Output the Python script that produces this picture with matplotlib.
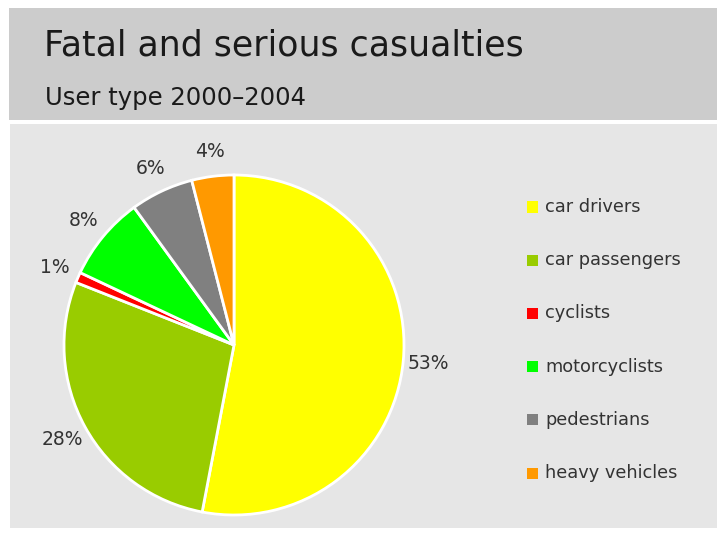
import matplotlib.pyplot as plt
from matplotlib.patches import Rectangle

# casualty shares by road user type, 2000-2004 (percent)
categories = ['car drivers', 'car passengers', 'cyclists',
              'motorcyclists', 'pedestrians', 'heavy vehicles']
shares = [53, 28, 1, 8, 6, 4]
colors = ['#ffff00', '#99cc00', '#ff0000', '#00ff00', '#808080', '#ff9900']

W, H = 717, 534
fig = plt.figure(figsize=(W / 100, H / 100), dpi=100, facecolor='white')

def px_box(x0, y0, x1, y1):
    # pixel box (top-left origin) -> figure fraction rect
    return (x0 / W, 1 - y1 / H, (x1 - x0) / W, (y1 - y0) / H)

# header band and chart panel
hx, hy, hw, hh = px_box(9, 8, 717, 120)
fig.patches.append(Rectangle((hx, hy), hw, hh, transform=fig.transFigure,
                             facecolor='#cccccc', edgecolor='none', zorder=-2))
px, py, pw, ph = px_box(10, 124, 717, 528)
fig.patches.append(Rectangle((px, py), pw, ph, transform=fig.transFigure,
                             facecolor='#e6e6e6', edgecolor='none', zorder=-2))

fig.text(44 / W, 1 - 46 / H, 'Fatal and serious casualties', fontsize=25,
         color='#1a1a1a', va='center', ha='left')
fig.text(45 / W, 1 - 98 / H, 'User type 2000\u20132004', fontsize=17.5,
         color='#1a1a1a', va='center', ha='left')

# pie, radius 170 px around (234, 345)
cx, cy, r = 234, 345, 170
ax = fig.add_axes(px_box(cx - r, cy - r, cx + r, cy + r))
wedges, _, pct = ax.pie(shares, colors=colors, startangle=90, counterclock=False,
                        radius=1, autopct='%.0f%%', pctdistance=1.15,
                        wedgeprops=dict(edgecolor='white', linewidth=2))
for t in pct:
    t.set_fontsize(13.5)
    t.set_color('#333333')
ax.set_xlim(-1, 1)
ax.set_ylim(-1, 1)
ax.set_aspect('equal')
ax.axis('off')

# legend column on the right
for i, (name, c) in enumerate(zip(categories, colors)):
    yy = 207 + i * 53.2
    fig.patches.append(Rectangle((527 / W, 1 - (yy + 5.5) / H), 11 / W, 11 / H,
                                 transform=fig.transFigure, facecolor=c,
                                 edgecolor='none', zorder=2))
    fig.text(545 / W, 1 - yy / H, name, fontsize=12.8, color='#333333',
             va='center', ha='left')

fig.savefig('out.png', dpi=100, facecolor='white')
